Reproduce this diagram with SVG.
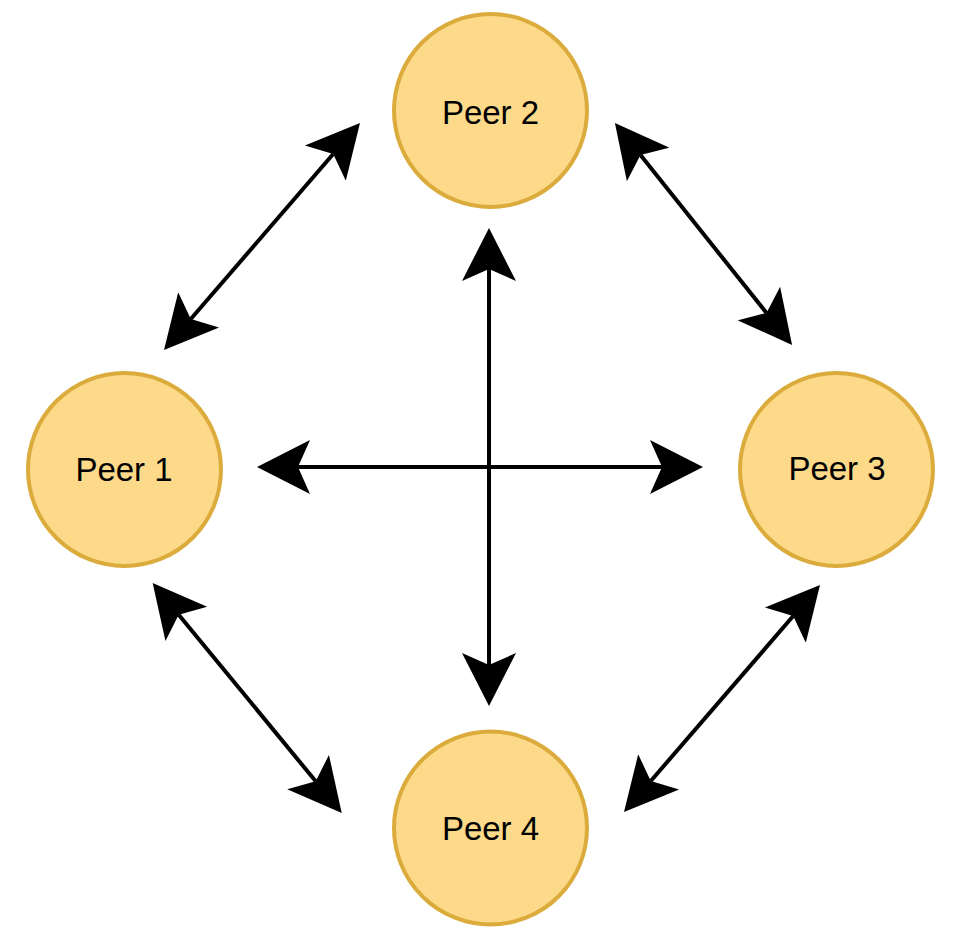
<svg xmlns="http://www.w3.org/2000/svg" width="956" height="945" viewBox="0 0 956 945">
<style>
.node circle{fill:#FDD98A;stroke:#DBAB3C;stroke-width:4}
.node text{font-family:"Liberation Sans",Arial,sans-serif;font-size:33px;fill:#000;text-anchor:middle}
.conn line{stroke:#000;stroke-width:4;marker-start:url(#ah);marker-end:url(#ah)}
</style>
<defs>
<marker id="ah" markerUnits="userSpaceOnUse" viewBox="0 -28 54 56" markerWidth="54" markerHeight="56" refX="12" refY="0" orient="auto-start-reverse">
<path d="M0,-27 L53,0 L0,27 L12,0 Z" fill="#000"/>
</marker>
</defs>
<rect width="956" height="945" fill="#fff"/>
<g id="connectors" class="conn">
<line x1="298" y1="467" x2="662" y2="467"/>
<line x1="489" y1="269" x2="489" y2="665"/>
<line x1="333.2" y1="154" x2="190.8" y2="319"/>
<line x1="640.5" y1="155.1" x2="766.5" y2="312.9"/>
<line x1="178.7" y1="614.7" x2="315.7" y2="781.3"/>
<line x1="793.2" y1="616" x2="650.8" y2="781"/>
</g>
<g id="peer1" class="node"><circle cx="124.5" cy="469.5" r="96.5"/><text x="124" y="481">Peer 1</text></g>
<g id="peer2" class="node"><circle cx="490.5" cy="110.5" r="96.5"/><text x="490.5" y="124">Peer 2</text></g>
<g id="peer3" class="node"><circle cx="836.5" cy="469.5" r="96.5"/><text x="837" y="480">Peer 3</text></g>
<g id="peer4" class="node"><circle cx="490.5" cy="828" r="96.5"/><text x="490.5" y="840">Peer 4</text></g>
</svg>
